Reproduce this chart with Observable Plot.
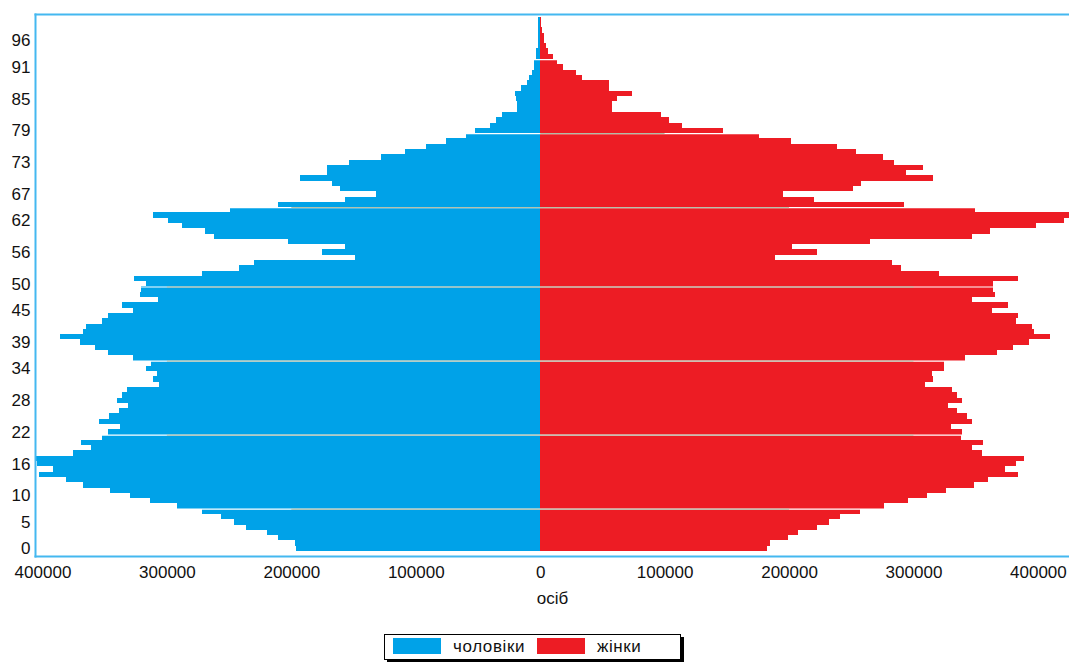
<!DOCTYPE html>
<html><head><meta charset="utf-8">
<script src="https://cdn.jsdelivr.net/npm/d3@7"></script>
<script src="https://cdn.jsdelivr.net/npm/@observablehq/plot@0.6"></script>
<style>
html,body{margin:0;padding:0;background:#fff;}
body{width:1069px;height:662px;position:relative;overflow:hidden;font-family:"Liberation Sans",Arial,sans-serif;}
#legend{position:absolute;left:384px;top:634px;width:295px;height:24px;border:1px solid #000;box-shadow:3px 3px 0 #000;background:#fff;font-size:17px;color:#111;}
#legend .sw{position:absolute;top:3px;width:48px;height:16px;}
#legend .lb{position:absolute;top:2px;line-height:20px;letter-spacing:0.6px;}
</style></head>
<body>
<div id="chart"></div>
<div id="legend"></div>
<script>
// Age categories (single years)
const ages = [0,1,2,3,4,5,6,7,8,9,10,11,12,13,14,15,16,17,18,19,20,21,22,23,24,25,26,27,28,29,30,31,32,33,34,35,36,37,38,39,40,41,42,43,44,45,46,47,48,49,50,51,52,53,54,55,56,57,58,59,60,61,62,63,64,65,66,67,68,69,70,71,72,73,74,75,76,77,78,79,80,81,82,83,84,85,86,87,88,89,90,91,92,93,94,95,96,97,98,99,100];
// Males, persons
const male = [196000,197400,210400,219500,236700,245800,256400,271900,291500,313700,
329400,345500,367700,380700,402800,391200,404000,408000,375100,361300,
368800,351900,347400,337800,354400,346300,338600,330900,340000,336400,
331700,306000,311500,307600,316500,312900,326900,347400,358000,369900,
385600,367700,364900,351900,347400,326900,335800,307300,321400,320600,
316400,326700,271900,241700,229800,149000,175000,156700,202600,262000,
269000,287600,299000,311000,249400,210400,156700,131800,160600,167500,
193000,171000,171000,154000,128200,108300,91400,75600,59800,52000,
40200,35500,30800,18900,19000,19700,20000,15500,10500,9000,
6400,5000,5000,3600,3600,2000,2000,1800,1500,1500,1500];
// Females, persons
const female = [182000,184600,199200,206900,222700,231800,241200,256700,276600,295900,
310600,326400,348500,360000,383900,373300,382200,389000,354800,347000,
356200,338000,339000,330200,347000,342900,335200,327400,339300,335200,
331300,309200,315300,314500,324900,324900,341800,367000,379700,393200,
410000,396800,395400,382200,383900,362800,376000,347000,365600,364200,
364200,383900,320800,289600,283000,188800,222700,202000,264700,347000,
361400,398200,421000,428000,349800,292000,219900,195000,251100,257800,
315300,294000,307600,284100,275200,253900,238200,201700,175500,146700,
113800,103300,97000,57700,57700,61600,73500,55000,55000,34000,
28700,18500,13300,10400,6300,4400,3000,3000,1500,1000,800];
// Axis tick labels
const yTickAges = [0,5,10,16,22,28,34,39,45,50,56,62,67,73,79,85,91,96];
const xTicks = [-400000,-300000,-200000,-100000,0,100000,200000,300000,400000];
// Horizontal grid lines (lower edge of these age bars)
const gridAges = [8,22,36,50,65,79,93];
const seriesNames = ["чоловіки","жінки"];
const seriesColors = ["#00a2e8","#ed1c24"];

const rows = ages.map((a,i)=>({age:a, male:male[i], female:female[i]}));
const grid = gridAges.map(b=>({
  age:b,
  left: Math.floor(Math.min(male[b-1],male[b])/100000)*100000,
  right: Math.floor(Math.min(female[b-1],female[b])/100000)*100000
}));

const frameColor = "#44b8f0";
const chart = Plot.plot({
  width:1069, height:620,
  marginLeft:35, marginRight:0, marginTop:14, marginBottom:64,
  style:{fontFamily:"'Liberation Sans', Arial, sans-serif", fontSize:"17px", color:"#111", background:"#fff", overflow:"visible"},
  x:{domain:[-406000,425000], range:[35,1069]},
  y:{type:"band", domain:ages.slice().reverse(), range:[16.7,551], padding:0, round:false},
  marks:[
    Plot.barX(rows,{y:"age", x1:0, x2:d=>-d.male, fill:seriesColors[0], clip:true, shapeRendering:"crispEdges"}),
    Plot.barX(rows,{y:"age", x1:0, x2:"female", fill:seriesColors[1], clip:true, shapeRendering:"crispEdges"}),
    Plot.ruleY(grid,{y:"age", dy:2.65, stroke:"#fff", strokeWidth:1.2, clip:true}),
    Plot.ruleY(grid.filter(d=>d.left>0||d.right>0),{y:"age", x1:d=>-d.left, x2:"right", dy:2.65, stroke:"#aab8a0", strokeWidth:1, clip:true}),
    Plot.axisY({ticks:yTickAges, tickSize:0, tickPadding:5, label:null}),
    Plot.axisX({ticks:xTicks, tickFormat:d=>String(Math.abs(d)), tickSize:0, tickPadding:9, label:"осіб", labelAnchor:"center", labelArrow:"none", labelOffset:47}),
    Plot.frame({anchor:"top", stroke:frameColor, strokeWidth:2}),
    Plot.frame({anchor:"left", stroke:frameColor, strokeWidth:2}),
    Plot.frame({anchor:"bottom", stroke:frameColor, strokeWidth:2})
  ]
});
document.getElementById("chart").appendChild(chart);

const lg = document.getElementById("legend");
const swLeft = [8,152], lbLeft = [68,212];
seriesNames.forEach((n,i)=>{
  const s = document.createElement("div"); s.className="sw"; s.style.left=swLeft[i]+"px"; s.style.background=seriesColors[i]; lg.appendChild(s);
  const t = document.createElement("div"); t.className="lb"; t.style.left=lbLeft[i]+"px"; t.textContent=n; lg.appendChild(t);
});
</script>
</body></html>
